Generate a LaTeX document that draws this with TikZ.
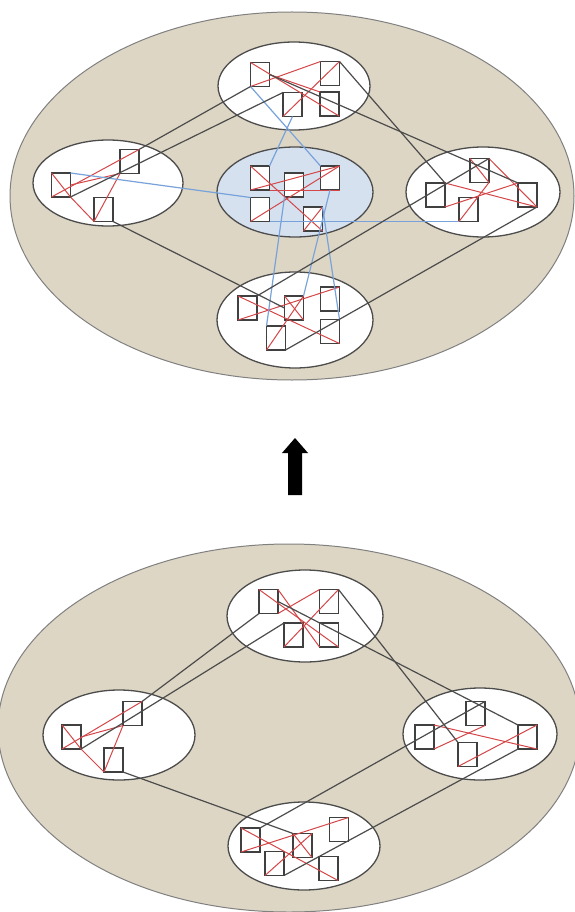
\documentclass[tikz,border=0pt]{standalone}
\begin{document}
\begin{tikzpicture}[x=1pt,y=-1pt,
  big/.style={draw=black!50,line width=1pt,fill=bigfill},
  grp/.style={draw=black!70,line width=1.3pt,fill=white},
  sq/.style={draw=black!75,fill=white,line width=1.2pt,minimum width=19pt,minimum height=24pt,inner sep=0pt,outer sep=0pt},
  rd/.style={draw=redline,line width=1pt},
  blu/.style={draw=blueline,line width=1.2pt},
  blk/.style={draw=black!70,line width=1.2pt}]
\definecolor{bigfill}{RGB}{221,214,196}
\definecolor{cenfill}{RGB}{214,225,240}
\definecolor{redline}{RGB}{212,70,72}
\definecolor{blueline}{RGB}{120,162,218}
\useasboundingbox (0,0) rectangle (574,912);
% ---------- top panel ----------
\fill[white] (0,0) rectangle (574,912);
\path[big] (292,196) ellipse [x radius=282pt,y radius=184pt];
\path[grp] (294,86) ellipse [x radius=76pt,y radius=44pt];
\path[grp] (108,183) ellipse [x radius=75pt,y radius=43pt];
\path[grp,fill=cenfill] (295,192) ellipse [x radius=78pt,y radius=45pt];
\path[grp] (483,192) ellipse [x radius=77pt,y radius=45pt];
\path[grp] (295,320) ellipse [x radius=78pt,y radius=48pt];
\node[sq] (a1) at (260,74.5) {};
\node[sq] (a2) at (330,73.5) {};
\node[sq] (a3) at (292.5,104.5) {};
\node[sq] (a4) at (329.5,104) {};
\node[sq] (l1) at (61,185) {};
\node[sq] (l2) at (129.5,161.5) {};
\node[sq] (l3) at (103.5,209.5) {};
\node[sq] (c1) at (260,178) {};
\node[sq] (c2) at (294,185) {};
\node[sq] (c3) at (330,178) {};
\node[sq] (c4) at (260,209.5) {};
\node[sq] (c5) at (313,219) {};
\node[sq] (r1) at (479.5,170.5) {};
\node[sq] (r2) at (435.5,195) {};
\node[sq] (r3) at (468.5,209.5) {};
\node[sq] (r4) at (527.5,195) {};
\node[sq] (b1) at (247.5,308) {};
\node[sq] (b2) at (294,308) {};
\node[sq] (b3) at (330,299) {};
\node[sq] (b4) at (276,338) {};
\node[sq] (b5) at (330,331.5) {};
% red
\draw[rd] (a1.north west) -- (a4.south east);
\draw[rd] (a2.north east) -- (a3.south west);
\draw[rd] (a1.south west) -- (a2.north west);
\draw[rd] (a1.east) -- (a4.north west);
\draw[rd] (l1.south west) -- (l2.north east);
\draw[rd] (l1.north west) -- (l1.south east);
\draw[rd] (l1.east) -- (l2.south west);
\draw[rd] (l1.south east) -- (l3.south west);
\draw[rd] (l3.south west) -- (l2.south west);
\draw[rd] (c1.north west) -- (c5.south east);
\draw[rd] (c3.north east) -- (c4.south west);
\draw[rd] (c1.south west) -- (c3.north east);
\draw[rd] (c1.south east) -- (c3.south east);
\draw[rd] (c5.south west) -- (c5.north east);
\draw[rd] (r1.north west) -- (r1.south east);
\draw[rd] (r1.north east) -- (r4.south east);
\draw[rd] (r2.north east) -- (r4.south east);
\draw[rd] (r2.south east) -- (r4.north west);
\draw[rd] (r3.south west) -- (r1.south east);
\draw[rd] (b1.north west) -- (b5.south east);
\draw[rd] (b1.south west) -- (b3.north east);
\draw[rd] (b2.north east) -- (b4.south west);
\draw[rd] (b2.north west) -- (b2.south east);
% blue
\draw[blu] (a1.south west) -- (c3.north west);
\draw[blu] (a3.south) -- (c1.north east);
\draw[blu] (l1.north east) -- (c4.north west);
\draw[blu] (c4.south east) -- (r3.south west);
\draw[blu] (c2.south west) -- (b4.north west);
\draw[blu] (c3.south) -- (b2.north east);
\draw[blu] (c5.north east) -- (b5.north east);
% black
\draw[blk] (a1.south west) -- (l2.north east);
\draw[blk] (a3.north west) -- (l1.south east);
\draw[blk] (a2.north east) -- (r2.north east);
\draw[blk] (a1.east) -- (r4.north west);
\draw[blk] (l3.south east) -- (b2.west);
\draw[blk] (r1.north east) -- (b1.north east);
\draw[blk] (b4.south east) -- (r4.south east);
% ---------- arrow ----------
\fill[black] (288,495) -- (288,453) -- (282,453) -- (295,438) -- (308,453) -- (302,453) -- (302,495) -- cycle;
% ---------- bottom panel ----------
\path[big] (289,728) ellipse [x radius=291pt,y radius=184pt];
\path[grp] (305,616) ellipse [x radius=78pt,y radius=46pt];
\path[grp] (119,735) ellipse [x radius=76pt,y radius=45pt];
\path[grp] (480,734) ellipse [x radius=77pt,y radius=46pt];
\path[grp] (304,846) ellipse [x radius=76pt,y radius=44pt];
\node[sq] (A1) at (268.5,601.5) {};
\node[sq] (A2) at (329,601.5) {};
\node[sq] (A3) at (293.5,635) {};
\node[sq] (A4) at (329,635) {};
\node[sq] (L1) at (71.5,737) {};
\node[sq] (L2) at (132.5,713.5) {};
\node[sq] (L3) at (113.5,760) {};
\node[sq] (R1) at (475.5,713.5) {};
\node[sq] (R2) at (424.5,737) {};
\node[sq] (R3) at (467.5,754.5) {};
\node[sq] (R4) at (527.5,737) {};
\node[sq] (B1) at (250.5,840) {};
\node[sq] (B2) at (302.5,845.5) {};
\node[sq] (B3) at (339,829.5) {};
\node[sq] (B4) at (274.5,863.5) {};
\node[sq] (B5) at (328.5,868.5) {};
% red
\draw[rd] (A1.north west) -- (A4.south east);
\draw[rd] (A2.north east) -- (A3.south west);
\draw[rd] (A1.south east) -- (A2.north west);
\draw[rd] (A1.north east) -- (A4.south west);
\draw[rd] (L1.south west) -- (L2.north east);
\draw[rd] (L1.north west) -- (L1.south east);
\draw[rd] (L1.east) -- (L2.south west);
\draw[rd] (L1.south east) -- (L3.south west);
\draw[rd] (L3.south west) -- (L2.south west);
\draw[rd] (R2.north east) -- (R4.south east);
\draw[rd] (R2.south east) -- (R1.south east);
\draw[rd] (R3.south west) -- (R4.north east);
\draw[rd] (B1.north west) -- (B5.south east);
\draw[rd] (B1.south west) -- (B3.north east);
\draw[rd] (B2.north east) -- (B4.south west);
\draw[rd] (B2.north west) -- (B2.south east);
% black
\draw[blk] (A1.south west) -- (L2.north east);
\draw[blk] (A3.north west) -- (L1.south east);
\draw[blk] (A2.north east) -- (R3.north west);
\draw[blk] (A1.east) -- (R4.north west);
\draw[blk] (L3.south east) -- (B2.north west);
\draw[blk] (R1.north east) -- (B1.north east);
\draw[blk] (B4.south east) -- (R4.south west);
\end{tikzpicture}
\end{document}
